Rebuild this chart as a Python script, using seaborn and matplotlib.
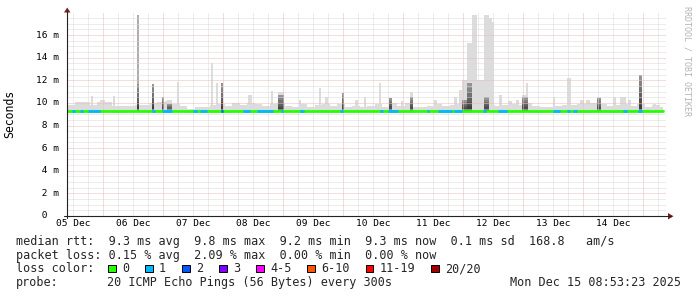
import numpy as np
import pandas as pd
import matplotlib
matplotlib.use("Agg")
import matplotlib.pyplot as plt
import matplotlib.transforms as mtransforms
from matplotlib.patches import Rectangle, Polygon
from matplotlib.lines import Line2D
import seaborn as sns

# ---------------------------------------------------------------- data
# time axis: hours since graph start (Fri Dec 05 ~08:53), 10 days
day_labels = ["05 Dec", "06 Dec", "07 Dec", "08 Dec", "09 Dec",
              "10 Dec", "11 Dec", "12 Dec", "13 Dec", "14 Dec"]
label_hours = [2.4, 26.4, 50.4, 74.4, 98.4, 122.4, 146.4, 170.4, 194.4, 218.4]
midnight_hours = [14.4, 38.4, 62.4, 86.4, 110.4, 134.4, 158.4, 182.4, 206.4, 230.4]
data_end_hour = 238.5

y_ticks_ms = [0, 2, 4, 6, 8, 10, 12, 14, 16]
y_tick_labels = [" 0", " 2 m", " 4 m", " 6 m", " 8 m", "10 m", "12 m", "14 m", "16 m"]

# light smoke (max ping) per 3-hour bin, ms
smoke_top_3h = [9.8, 10.1, 10.1, 9.8, 10.1, 10.1, 9.7, 9.7, 9.7, 9.8,
                9.8, 10.0, 10.1, 10.2, 9.9, 9.7, 9.5, 9.6, 9.6, 9.8,
                9.9, 9.7, 10.0, 9.8, 10.0, 9.9, 9.7, 9.9, 10.0, 9.7,
                9.6, 9.9, 9.6, 9.8, 9.9, 9.7, 9.9, 9.6, 9.7, 9.6,
                9.7, 9.9, 9.6, 10.0, 9.7, 10.0, 9.6, 9.6, 9.7, 9.9,
                9.7, 9.8, 9.9, 9.9, 9.8, 9.8, 9.8, 9.7, 9.8, 9.9,
                9.8, 10.0, 9.7, 9.6, 9.6, 9.7, 9.8, 9.8, 9.9, 10.0,
                10.0, 9.9, 9.7, 9.8, 9.9, 9.7, 9.9, 9.6, 9.8, 9.6]
# min ping and median rtt per 6-hour bin, ms
smoke_floor_6h = [9.1, 9.1, 9.2, 9.1, 9.2, 9.2, 9.1, 9.2, 9.1, 9.1,
                  9.1, 9.2, 9.1, 9.1, 9.2, 9.2, 9.2, 9.1, 9.2, 9.2,
                  9.2, 9.2, 9.1, 9.2, 9.2, 9.1, 9.1, 9.2, 9.2, 9.2,
                  9.2, 9.1, 9.2, 9.2, 9.1, 9.2, 9.1, 9.2, 9.2, 9.2]
median_6h = [9.3, 9.3, 9.3, 9.3, 9.3, 9.3, 9.3, 9.3, 9.3, 9.3,
             9.3, 9.3, 9.3, 9.3, 9.3, 9.3, 9.3, 9.3, 9.3, 9.3,
             9.3, 9.3, 9.3, 9.3, 9.3, 9.3, 9.3, 9.3, 9.3, 9.3,
             9.3, 9.3, 9.3, 9.3, 9.3, 9.3, 9.3, 9.3, 9.3, 9.3]

# latency spikes: start/end hour, max ping, top of dense core, share of pings at top
spike_start = [9.6, 18.4, 13.2, 28.0, 34.0, 38.0, 40.0, 43.8, 57.6, 59.6,
               61.6, 72.4, 81.6, 84.4, 92.8, 100.8, 103.2, 110.0, 115.2, 118.8,
               124.8, 128.8, 133.6, 137.0, 146.8, 154.8, 156.8, 158.0, 160.0, 162.0,
               164.0, 166.8, 168.8, 170.0, 172.6, 176.4, 179.6, 182.0, 183.6, 194.4,
               200.0, 205.2, 207.6, 212.0, 218.4, 221.2, 224.4, 228.8, 234.4]
spike_end = [10.4, 19.2, 15.2, 28.8, 34.8, 38.6, 42.0, 44.6, 58.4, 60.4,
             62.4, 74.0, 82.4, 86.8, 93.6, 101.6, 104.4, 110.8, 116.4, 119.6,
             125.6, 130.0, 134.4, 138.2, 148.0, 156.0, 158.0, 160.0, 162.0, 164.0,
             166.8, 168.8, 170.0, 170.8, 173.8, 178.0, 180.8, 184.4, 184.4, 195.2,
             201.6, 206.8, 209.2, 213.6, 219.6, 223.6, 225.6, 230.0, 235.6]
spike_top = [10.6, 10.6, 10.3, 17.8, 11.7, 10.5, 10.3, 11.85, 13.5, 11.75,
             11.75, 10.7, 11.05, 10.95, 10.25, 11.3, 10.5, 10.9, 10.25, 10.5,
             11.75, 10.45, 10.15, 10.95, 10.25, 10.5, 11.15, 12.0, 15.3, 17.8,
             12.0, 17.8, 17.5, 17.15, 10.7, 10.15, 10.25, 10.7, 11.75, 10.5,
             12.2, 10.25, 10.25, 10.5, 10.5, 10.5, 10.25, 12.45, 9.9]
spike_core = [9.3, 9.3, 9.3, 11.7, 11.7, 10.5, 9.9, 9.3, 9.3, 9.3,
              11.75, 9.3, 9.3, 10.7, 9.3, 9.3, 9.3, 10.9, 9.3, 9.3,
              9.3, 10.45, 9.3, 10.5, 9.3, 9.3, 9.3, 10.25, 11.75, 9.3,
              9.3, 10.5, 9.3, 9.3, 9.3, 9.3, 9.3, 10.5, 9.3, 9.3,
              9.3, 9.3, 9.3, 10.4, 9.3, 9.3, 9.3, 12.45, 9.3]
spike_share = [0, 0, 0, 0.5, 0, 0, 0, 0, 0, 0,
               0, 0, 0, 0, 0, 0, 0, 0, 0, 0,
               0, 0, 0, 0, 0, 0, 0, 0, 0, 0,
               0, 0, 0, 0, 0, 0, 0, 0, 0, 0,
               0, 0, 0, 0, 0, 0, 0, 0.5, 0]

# packet loss episodes on the median line: start/end hour, loss-colour index
loss_start = [2.0, 5.2, 8.4, 34.0, 38.0, 50.4, 53.2, 61.6, 70.4, 76.0,
              85.6, 93.2, 109.2, 125.2, 128.4, 144.0, 148.4, 154.8, 166.4, 172.4,
              194.4, 200.0, 202.4, 222.4, 228.4]
loss_end = [3.2, 6.4, 13.2, 35.2, 42.0, 52.0, 56.0, 62.4, 73.2, 82.4,
            86.4, 94.8, 110.4, 126.4, 132.4, 144.8, 154.0, 158.0, 167.6, 176.0,
            197.2, 201.2, 204.0, 224.0, 230.0]
loss_level = [1, 1, 1, 1, 1, 1, 1, 2, 1, 1,
              1, 1, 1, 1, 1, 1, 1, 1, 1, 1,
              1, 1, 1, 1, 1]

loss_labels = ["0", "1", "2", "3", "4-5", "6-10", "11-19", "20/20"]
loss_colors = ["#26ff00", "#00b8ff", "#0059ff", "#7e00ff",
               "#ff00ff", "#ff5500", "#ff0000", "#a10000"]

rtt_stats = {"avg": 9.3, "max": 9.8, "min": 9.2, "now": 9.3, "sd": 0.1, "ams": 168.8}
loss_stats = {"avg": 0.15, "max": 2.09, "min": 0.00, "now": 0.00}
probe_text = "20 ICMP Echo Pings (56 Bytes) every 300s"
stamp_text = "Mon Dec 15 08:53:23 2025"

# ---------------------------------------------------------------- style
sns.set_style("white")
plt.rcParams["font.family"] = ["DejaVu Sans Mono", "DejaVu Sans"]
MONO = "DejaVu Sans Mono"

W, H = 697, 297
fig = plt.figure(figsize=(W / 100, H / 100), dpi=100)
fig.patch.set_facecolor("white")
ax = fig.add_axes([67 / W, 1 - 216 / H, (666 - 67) / W, (216 - 13) / H])
ax.set_facecolor("white")
ax.set_xlim(0, 239.6)
ax.set_ylim(0, 17.95)
for s in ax.spines.values():
    s.set_visible(False)
ax.set_xticks([])
ax.set_yticks([])


def fp(x, y):
    return (x / W, 1 - y / H)


# ---------------------------------------------------------------- smoke
starts3 = np.arange(len(smoke_top_3h)) * 3.0
widths3 = np.minimum(starts3 + 3.0, data_end_hour) - starts3
floor3 = np.repeat(smoke_floor_6h, 2)
ax.bar(starts3, np.array(smoke_top_3h) - floor3, width=widths3, bottom=floor3,
       align="edge", color="#dcdcdc", linewidth=0, zorder=1)

med_at = lambda h: median_6h[min(int(h // 6), len(median_6h) - 1)]
flo_at = lambda h: smoke_floor_6h[min(int(h // 6), len(smoke_floor_6h) - 1)]

# upper (sparse) part of spikes
for s, e, t, sh in zip(spike_start, spike_end, spike_top, spike_share):
    g = 0.863 - 0.36 * sh
    ax.bar(s, t - flo_at(s), width=e - s, bottom=flo_at(s), align="edge",
           color=(g, g, g), linewidth=0, zorder=1.5)

# dense core of spikes: gradient dark -> mid
n_layers = 6
for s, e, c in zip(spike_start, spike_end, spike_core):
    m = med_at(s)
    if c <= m + 0.05:
        continue
    edges = np.linspace(m, c, n_layers + 1)
    for k in range(n_layers):
        g = 0.24 + 0.34 * k / (n_layers - 1)
        ax.bar(s, edges[k + 1] - edges[k], width=e - s, bottom=edges[k],
               align="edge", color=(g, g, g), linewidth=0, zorder=2)

# ---------------------------------------------------------------- grid (drawn over smoke)
dot = (0, (1, 1))
minor_c, major_c = "#dadada", "#ecbaba"
for v in np.arange(0.5, 17.95, 0.5):
    if abs(v % 2) > 1e-9:
        ax.axhline(v, color=minor_c, lw=0.72, ls=dot, zorder=3)
for v in y_ticks_ms[1:]:
    ax.axhline(v, color=major_c, lw=0.72, ls=dot, zorder=3.1)
for h in np.arange(2.4, 239.6, 6.0):
    if min(abs(h - m) for m in midnight_hours) > 1e-6:
        ax.axvline(h, color=minor_c, lw=0.72, ls=dot, zorder=3)
for h in midnight_hours:
    ax.axvline(h, color=major_c, lw=0.72, ls=dot, zorder=3.1)

# ---------------------------------------------------------------- median line
med_df = pd.DataFrame({
    "hour": list(np.arange(len(median_6h)) * 6.0) + [data_end_hour],
    "rtt": median_6h + [median_6h[-1]],
})
sns.lineplot(data=med_df, x="hour", y="rtt", ax=ax, color=loss_colors[0],
             lw=2.0, drawstyle="steps-post", zorder=5, legend=False)
ax.set_xlabel("")
ax.set_ylabel("")
ax.set_xticks([])
ax.set_yticks([])
for s, e, lv in zip(loss_start, loss_end, loss_level):
    ax.hlines(med_at(s), s, e, colors=loss_colors[lv], lw=2.0, zorder=6)

# ---------------------------------------------------------------- axes + arrows
axis_c, arrow_c = "#222222", "#7f1f1f"
fig.add_artist(Line2D([67 / W, 67 / W], [1 - 218 / H, 1 - 11 / H],
                      transform=fig.transFigure, color=axis_c, lw=0.8))
fig.add_artist(Line2D([64 / W, 671 / W], [1 - 216 / H, 1 - 216 / H],
                      transform=fig.transFigure, color=axis_c, lw=0.8))
fig.add_artist(Polygon([fp(64, 12.5), fp(70.5, 12.5), fp(67.2, 7.5)], closed=True,
                       transform=fig.transFigure, color=arrow_c, lw=0))
fig.add_artist(Polygon([fp(668, 213), fp(668, 219.5), fp(673.5, 216.2)], closed=True,
                       transform=fig.transFigure, color=arrow_c, lw=0))

# tick labels
ylab_tr = mtransforms.blended_transform_factory(fig.transFigure, ax.transData)
for v, lab in zip(y_ticks_ms, y_tick_labels):
    ax.text(36.5 / W, v, lab, transform=ylab_tr, ha="left", va="center",
            fontsize=6.8, family=MONO, color="black")
xlab_tr = mtransforms.blended_transform_factory(ax.transData, fig.transFigure)
for h, lab in zip(label_hours, day_labels):
    ax.text(h, 1 - 219.5 / H, lab, transform=xlab_tr, ha="center", va="top",
            fontsize=6.8, family=MONO, color="black")

fig.text(*fp(10, 114), "Seconds", rotation=90, ha="center", va="center",
         fontsize=8.3, family=MONO, color="black")
fig.text(*fp(687, 60.5), "RRDTOOL / TOBI OETIKER", rotation=270, ha="center",
         va="center", fontsize=6.0, family=MONO, color="#b4b4b4")

# ---------------------------------------------------------------- legend text
row1 = (f"median rtt:  {rtt_stats['avg']:.1f} ms avg  {rtt_stats['max']:.1f} ms max  "
        f"{rtt_stats['min']:.1f} ms min  {rtt_stats['now']:.1f} ms now  "
        f"{rtt_stats['sd']:.1f} ms sd  {rtt_stats['ams']:.1f}   am/s")
row2 = (f"packet loss: {loss_stats['avg']:.2f} % avg  {loss_stats['max']:.2f} % max  "
        f"{loss_stats['min']:.2f} % min  {loss_stats['now']:.2f} % now")
LF = 8.5
base = [245.0, 258.7, 272.4, 286.1]
fig.text(*fp(16, base[0]), row1, ha="left", va="baseline", fontsize=LF, family=MONO)
fig.text(*fp(16, base[1]), row2, ha="left", va="baseline", fontsize=LF, family=MONO)
fig.text(*fp(16, base[2]), "loss color:", ha="left", va="baseline", fontsize=LF, family=MONO)
fig.text(*fp(16, base[3]), "probe:", ha="left", va="baseline", fontsize=LF, family=MONO)
fig.text(*fp(107, base[3]), probe_text, ha="left", va="baseline", fontsize=LF, family=MONO)
fig.text(*fp(681.5, base[3]), stamp_text, ha="right", va="baseline", fontsize=LF, family=MONO)

bx = 108.0
for lab, col in zip(loss_labels, loss_colors):
    fig.add_artist(Rectangle(fp(bx, 272.0), 7.5 / W, 7.5 / H, transform=fig.transFigure,
                             facecolor=col, edgecolor="black", lw=0.7))
    fig.text(*fp(bx + 14.0, base[2]), lab, ha="left", va="baseline", fontsize=LF, family=MONO)
    bx += 37.0 + 7.12 * (len(lab) - 1)

fig.savefig("out.png", dpi=100, facecolor="white")
